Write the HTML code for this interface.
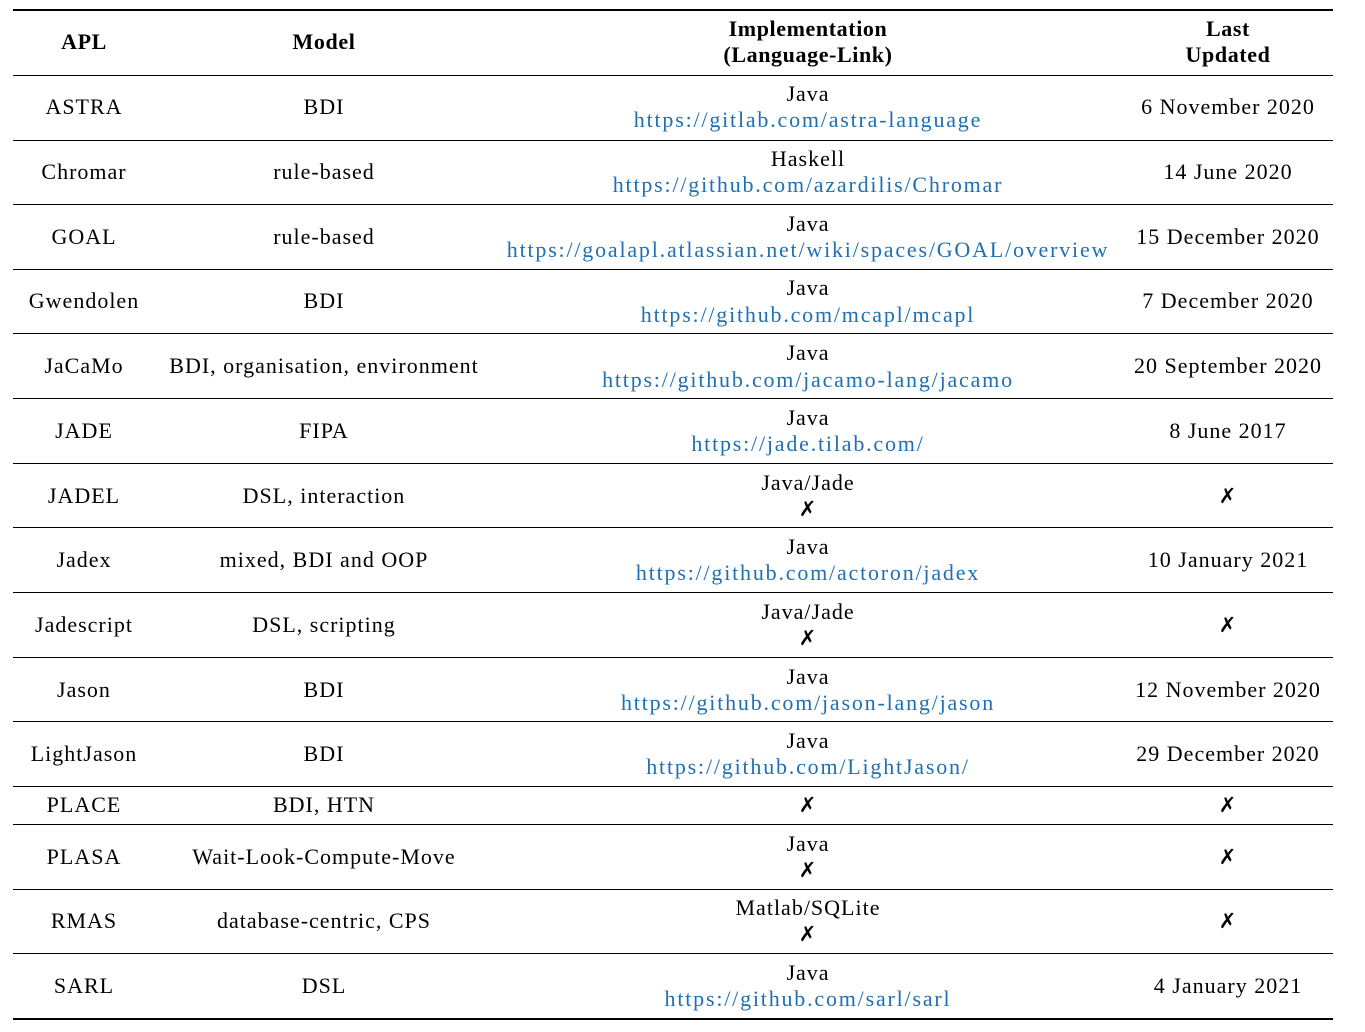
<!DOCTYPE html>
<html><head><meta charset="utf-8">
<style>
body{margin:0;width:1365px;height:1032px;background:#fff;position:relative;font-family:"Liberation Serif","DejaVu Serif",serif;font-size:22px;color:#000;overflow:hidden}
.t{position:absolute;width:700px;margin-left:-350px;text-align:center;height:26px;line-height:26px;white-space:nowrap;letter-spacing:1px}
.b{font-weight:bold;letter-spacing:0.6px}
.l{color:#1f6fb3;letter-spacing:1.8px}
.x{font-family:"DejaVu Sans",sans-serif;font-weight:bold;font-size:21px}
.r{position:absolute;left:13px;width:1320px;height:1px;background:#000}
.r2{height:2px}
</style></head><body>
<div class="r r2" style="top:9px"></div>
<div class="r" style="top:75px"></div>
<div class="r" style="top:140px"></div>
<div class="r" style="top:204px"></div>
<div class="r" style="top:269px"></div>
<div class="r" style="top:333px"></div>
<div class="r" style="top:398px"></div>
<div class="r" style="top:463px"></div>
<div class="r" style="top:527px"></div>
<div class="r" style="top:592px"></div>
<div class="r" style="top:657px"></div>
<div class="r" style="top:721px"></div>
<div class="r" style="top:786px"></div>
<div class="r" style="top:824px"></div>
<div class="r" style="top:889px"></div>
<div class="r" style="top:953px"></div>
<div class="r r2" style="top:1018px"></div>

<div class="t b" style="left:84px;top:29px">APL</div>
<div class="t b" style="left:324px;top:29px">Model</div>
<div class="t b" style="left:808px;top:16px">Implementation</div>
<div class="t b" style="left:808px;top:42px">(Language-Link)</div>
<div class="t b" style="left:1228px;top:16px">Last</div>
<div class="t b" style="left:1228px;top:42px">Updated</div>

<div class="t" style="left:84px;top:94px">ASTRA</div>
<div class="t" style="left:324px;top:94px">BDI</div>
<div class="t" style="left:808px;top:81px">Java</div>
<div class="t l" style="left:808px;top:107px">https://gitlab.com/astra-language</div>
<div class="t" style="left:1228px;top:94px">6 November 2020</div>

<div class="t" style="left:84px;top:159px">Chromar</div>
<div class="t" style="left:324px;top:159px">rule-based</div>
<div class="t" style="left:808px;top:146px">Haskell</div>
<div class="t l" style="left:808px;top:172px">https://github.com/azardilis/Chromar</div>
<div class="t" style="left:1228px;top:159px">14 June 2020</div>

<div class="t" style="left:84px;top:224px">GOAL</div>
<div class="t" style="left:324px;top:224px">rule-based</div>
<div class="t" style="left:808px;top:211px">Java</div>
<div class="t l" style="left:808px;top:237px">https://goalapl.atlassian.net/wiki/spaces/GOAL/overview</div>
<div class="t" style="left:1228px;top:224px">15 December 2020</div>

<div class="t" style="left:84px;top:288px">Gwendolen</div>
<div class="t" style="left:324px;top:288px">BDI</div>
<div class="t" style="left:808px;top:275px">Java</div>
<div class="t l" style="left:808px;top:302px">https://github.com/mcapl/mcapl</div>
<div class="t" style="left:1228px;top:288px">7 December 2020</div>

<div class="t" style="left:84px;top:353px">JaCaMo</div>
<div class="t" style="left:324px;top:353px">BDI, organisation, environment</div>
<div class="t" style="left:808px;top:340px">Java</div>
<div class="t l" style="left:808px;top:367px">https://github.com/jacamo-lang/jacamo</div>
<div class="t" style="left:1228px;top:353px">20 September 2020</div>

<div class="t" style="left:84px;top:418px">JADE</div>
<div class="t" style="left:324px;top:418px">FIPA</div>
<div class="t" style="left:808px;top:405px">Java</div>
<div class="t l" style="left:808px;top:431px">https://jade.tilab.com/</div>
<div class="t" style="left:1228px;top:418px">8 June 2017</div>

<div class="t" style="left:84px;top:483px">JADEL</div>
<div class="t" style="left:324px;top:483px">DSL, interaction</div>
<div class="t" style="left:808px;top:470px">Java/Jade</div>
<div class="t x" style="left:808px;top:496px">✗</div>
<div class="t x" style="left:1228px;top:483px">✗</div>

<div class="t" style="left:84px;top:547px">Jadex</div>
<div class="t" style="left:324px;top:547px">mixed, BDI and OOP</div>
<div class="t" style="left:808px;top:534px">Java</div>
<div class="t l" style="left:808px;top:560px">https://github.com/actoron/jadex</div>
<div class="t" style="left:1228px;top:547px">10 January 2021</div>

<div class="t" style="left:84px;top:612px">Jadescript</div>
<div class="t" style="left:324px;top:612px">DSL, scripting</div>
<div class="t" style="left:808px;top:599px">Java/Jade</div>
<div class="t x" style="left:808px;top:625px">✗</div>
<div class="t x" style="left:1228px;top:612px">✗</div>

<div class="t" style="left:84px;top:677px">Jason</div>
<div class="t" style="left:324px;top:677px">BDI</div>
<div class="t" style="left:808px;top:664px">Java</div>
<div class="t l" style="left:808px;top:690px">https://github.com/jason-lang/jason</div>
<div class="t" style="left:1228px;top:677px">12 November 2020</div>

<div class="t" style="left:84px;top:741px">LightJason</div>
<div class="t" style="left:324px;top:741px">BDI</div>
<div class="t" style="left:808px;top:728px">Java</div>
<div class="t l" style="left:808px;top:754px">https://github.com/LightJason/</div>
<div class="t" style="left:1228px;top:741px">29 December 2020</div>

<div class="t" style="left:84px;top:792px">PLACE</div>
<div class="t" style="left:324px;top:792px">BDI, HTN</div>
<div class="t x" style="left:808px;top:792px">✗</div>
<div class="t x" style="left:1228px;top:792px">✗</div>

<div class="t" style="left:84px;top:844px">PLASA</div>
<div class="t" style="left:324px;top:844px">Wait-Look-Compute-Move</div>
<div class="t" style="left:808px;top:831px">Java</div>
<div class="t x" style="left:808px;top:857px">✗</div>
<div class="t x" style="left:1228px;top:844px">✗</div>

<div class="t" style="left:84px;top:908px">RMAS</div>
<div class="t" style="left:324px;top:908px">database-centric, CPS</div>
<div class="t" style="left:808px;top:895px">Matlab/SQLite</div>
<div class="t x" style="left:808px;top:921px">✗</div>
<div class="t x" style="left:1228px;top:908px">✗</div>

<div class="t" style="left:84px;top:973px">SARL</div>
<div class="t" style="left:324px;top:973px">DSL</div>
<div class="t" style="left:808px;top:960px">Java</div>
<div class="t l" style="left:808px;top:986px">https://github.com/sarl/sarl</div>
<div class="t" style="left:1228px;top:973px">4 January 2021</div>
</body></html>
